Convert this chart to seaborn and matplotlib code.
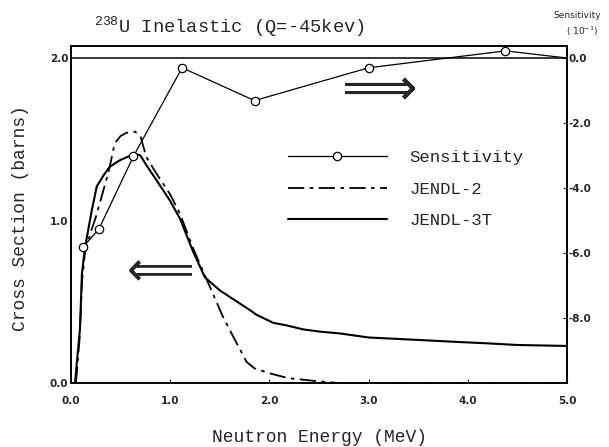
import matplotlib
matplotlib.use("Agg")
import matplotlib.pyplot as plt
import seaborn as sns

# sensitivity (10^-1)
sens_energy = [0.12, 0.28, 0.63, 1.12, 1.85, 3.00, 4.38, 5.00]
sens_value = [-5.82, -5.27, -3.02, -0.30, -1.31, -0.30, 0.22, 0.0]

# JENDL-3T cross section (barns)
e_3t = [0.04, 0.09, 0.11, 0.14, 0.21, 0.26, 0.33, 0.39, 0.49, 0.60, 0.65,
        0.70, 0.76, 0.86, 1.00, 1.10, 1.23, 1.35, 1.50, 1.60, 1.70, 1.80,
        1.87, 2.04, 2.17, 2.34, 2.51, 2.71, 3.00, 3.50, 3.85, 4.20, 4.50, 5.00]
xs_3t = [0.0, 0.33, 0.67, 0.83, 1.065, 1.21, 1.28, 1.33, 1.37, 1.40, 1.41,
         1.40, 1.34, 1.25, 1.12, 1.01, 0.81, 0.65, 0.57, 0.53, 0.49, 0.45,
         0.42, 0.37, 0.355, 0.33, 0.316, 0.305, 0.28, 0.265, 0.254, 0.244, 0.234, 0.228]

# JENDL-2 cross section (barns)
e_j2 = [0.05, 0.09, 0.11, 0.14, 0.20, 0.25, 0.31, 0.36, 0.39, 0.44, 0.50,
        0.56, 0.645, 0.70, 0.72, 0.76, 0.86, 1.00, 1.10, 1.23, 1.43, 1.53,
        1.64, 1.77, 1.85, 2.00, 2.19, 2.50, 2.70, 5.00]
xs_j2 = [0.0, 0.30, 0.62, 0.80, 0.93, 1.02, 1.15, 1.26, 1.33, 1.475, 1.52,
         1.54, 1.547, 1.52, 1.475, 1.39, 1.29, 1.16, 1.04, 0.83, 0.55, 0.41,
         0.28, 0.13, 0.09, 0.06, 0.03, 0.01, 0.0, 0.0]

x_ticks = [0, 1, 2, 3, 4, 5]
x_ticklabels = ["0.0", "1.0", "2.0", "3.0", "4.0", "5.0"]
left_ticks = [0, 1, 2]
left_ticklabels = ["0.0", "1.0", "2.0"]
right_ticks = [0, -2, -4, -6, -8]
right_ticklabels = ["0.0", "-2.0", "-4.0", "-6.0", "-8.0"]

sns.set_style("ticks")
plt.rcParams["font.family"] = ["Liberation Mono", "DejaVu Sans"]
plt.rcParams["mathtext.fontset"] = "custom"
plt.rcParams["mathtext.rm"] = "Liberation Mono"
plt.rcParams["mathtext.default"] = "regular"

fig = plt.figure(figsize=(6.09, 4.47), dpi=100)
ax = fig.add_axes([71 / 609, 1 - 383 / 447, 496 / 609, 337 / 447])
ax2 = ax.twinx()

sns.lineplot(x=e_3t, y=xs_3t, ax=ax, color="black", lw=1.5, label="JENDL-3T")
sns.lineplot(x=e_j2, y=xs_j2, ax=ax, color="black", lw=1.3,
             linestyle=(0, (9, 3, 2, 3)), label="JENDL-2")
sns.lineplot(x=sens_energy, y=sens_value, ax=ax2, color="black", lw=0.9,
             marker="o", markersize=6, markerfacecolor="white",
             markeredgecolor="black", markeredgewidth=0.9,
             markevery=list(range(len(sens_energy) - 1)), label="Sensitivity")
ax2.axhline(0, color="black", lw=1.1)

ax.set_xlim(0, 5)
ax.set_ylim(0, 2.074)
ax2.set_ylim(-10, 0.37)

for a in (ax, ax2):
    if a.get_legend():
        a.get_legend().remove()
    for sp in a.spines.values():
        sp.set_linewidth(1.2)
        sp.set_color("black")

tick_font = dict(family="DejaVu Sans", weight="bold", size=7.5)
ax.set_xticks(x_ticks)
ax.set_xticklabels(x_ticklabels, fontdict=tick_font)
ax.set_yticks(left_ticks)
ax.set_yticklabels(left_ticklabels, fontdict=tick_font)
ax2.set_yticks(right_ticks)
ax2.set_yticklabels(right_ticklabels, fontdict=tick_font)
ax.tick_params(axis="x", direction="in", length=3, pad=9)
ax.tick_params(axis="y", direction="in", length=0, pad=2)
ax2.tick_params(axis="y", direction="in", length=3, pad=1)

ax.set_xlabel("Neutron Energy (MeV)", fontsize=13)
ax.xaxis.set_label_coords(0.5, (383 - 437) / 337)
ax.xaxis.label.set_va("center")
ax.set_ylabel("Cross Section (barns)", fontsize=13)
ax.yaxis.set_label_coords((21 - 71) / 496, 0.49)
ax.yaxis.label.set_va("center")

fig.text(229 / 609, 1 - 27 / 447, "$^{238}$U Inelastic (Q=-45kev)",
         ha="center", va="center", fontsize=13.5)
fig.text(577 / 609, 1 - 16 / 447, "Sensitivity", family="DejaVu Sans",
         fontsize=6.5, ha="center", va="center")
fig.text(582 / 609, 1 - 31 / 447, "( 10$^{-1}$)", family="DejaVu Sans",
         fontsize=6.5, ha="center", va="center")

# direction arrows
ax.text(0.90, 0.677, "\u27f8", family="DejaVu Sans", fontsize=34,
        ha="center", va="center")
ax.text(3.11, 1.80, "\u27f9", family="DejaVu Sans", fontsize=38,
        ha="center", va="center")

lines = ax2.get_lines()[:1] + ax.get_lines()[1:2] + ax.get_lines()[:1]
fig.legend(lines, ["Sensitivity", "JENDL-2", "JENDL-3T"],
           loc="upper left", bbox_to_anchor=(288 / 609, 1 - 150 / 447),
           frameon=False, fontsize=12.5, handlelength=5.7, handletextpad=1.3,
           labelspacing=0.95, borderpad=0, borderaxespad=0, markerscale=1)

fig.savefig("out.png", dpi=100)
